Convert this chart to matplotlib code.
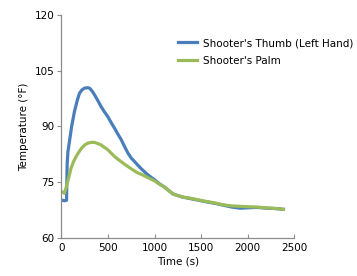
import matplotlib
matplotlib.use("Agg")
import matplotlib.pyplot as plt

thumb_t = [0, 30, 55, 62, 70, 86, 110, 140, 170, 194, 220, 248, 280, 302, 330, 356, 390, 427, 460, 499, 535, 571,
           605, 643, 680, 715, 750, 787, 820, 858, 900, 948, 1002, 1056, 1100, 1200, 1300, 1379, 1460, 1559, 1650,
           1738, 1830, 1918, 2000, 2098, 2200, 2300, 2385]
thumb_T = [70.2, 70.0, 70.1, 80.0, 83.2, 85.9, 90.0, 94.0, 97.0, 98.9, 99.8, 100.3, 100.4, 100.3, 99.5, 98.5, 97.0,
           95.3, 94.0, 92.6, 91.0, 89.5, 88.0, 86.4, 84.5, 82.8, 81.5, 80.5, 79.6, 78.6, 77.6, 76.6, 75.6, 74.5,
           73.8, 71.8, 71.0, 70.6, 70.2, 69.7, 69.3, 68.8, 68.3, 68.0, 68.1, 68.2, 68.0, 67.9, 67.7]

palm_t = [0, 32, 50, 68, 86, 104, 130, 158, 185, 212, 250, 284, 320, 356, 390, 427, 460, 499, 535, 571, 605, 643,
          680, 715, 750, 787, 820, 858, 900, 930, 1002, 1056, 1100, 1200, 1300, 1379, 1460, 1559, 1650, 1738, 1830,
          1918, 2000, 2098, 2200, 2300, 2385]
palm_T = [72.5, 72.0, 73.5, 75.2, 77.0, 78.8, 80.5, 81.9, 83.0, 84.0, 85.0, 85.5, 85.7, 85.7, 85.4, 85.0, 84.4,
          83.7, 82.8, 81.9, 81.2, 80.5, 79.8, 79.2, 78.6, 78.0, 77.5, 77.1, 76.6, 76.2, 75.3, 74.4, 73.8, 71.8,
          71.0, 70.7, 70.3, 69.8, 69.4, 68.9, 68.6, 68.5, 68.4, 68.3, 68.1, 67.9, 67.7]

x_ticks = [0, 500, 1000, 1500, 2000, 2500]
y_ticks = [60, 75, 90, 105, 120]

fig = plt.figure(figsize=(3.57, 2.76), dpi=100)
ax = fig.add_axes([0.172, 0.138, 0.652, 0.808])

ax.plot(thumb_t, thumb_T, color="#4a7ebb", lw=2.3, label="Shooter's Thumb (Left Hand)", solid_joinstyle="round")
ax.plot(palm_t, palm_T, color="#9bbb59", lw=2.3, label="Shooter's Palm", solid_joinstyle="round")

ax.set_xlim(0, 2500)
ax.set_ylim(60, 120)
ax.set_xticks(x_ticks)
ax.set_yticks(y_ticks)
for s in ["top", "right"]:
    ax.spines[s].set_visible(False)
for s in ["left", "bottom"]:
    ax.spines[s].set_color("#8c8c8c")
    ax.spines[s].set_linewidth(0.9)
ax.tick_params(axis="x", direction="in", length=3, color="#8c8c8c", labelsize=7.5, pad=4)
ax.tick_params(axis="y", direction="out", length=3, color="#8c8c8c", labelsize=7.5, pad=2)
ax.set_xlabel("Time (s)", fontsize=7.5, labelpad=2)
ax.set_ylabel("Temperature (°F)", fontsize=7.5, labelpad=4)

leg = ax.legend(loc="upper left", bbox_to_anchor=(0.485, 0.915), frameon=False, fontsize=7.5,
                handlelength=1.8, handletextpad=0.6, labelspacing=0.75, borderaxespad=0)

fig.savefig("out.png", dpi=100)
